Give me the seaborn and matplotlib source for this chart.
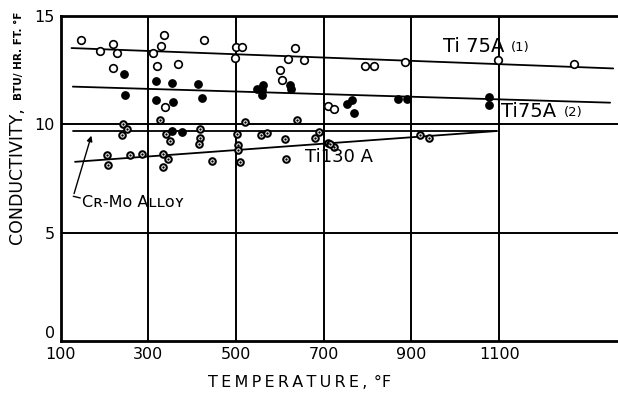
"""
Thermal conductivity of Ti alloys vs temperature (scanned chart recreation)
"""

import matplotlib
matplotlib.use("Agg")
import matplotlib.pyplot as plt
import seaborn as sns

# Ti 75A (1) - open circles
open_x = [146, 191, 220, 229, 219, 310, 336, 330, 321, 367, 428, 501, 514, 498,
          634, 618, 656, 600, 606, 709, 723, 337, 794, 815, 885, 1098, 1270]
open_y = [13.9, 13.37, 13.7, 13.27, 12.6, 13.27, 14.13, 13.6, 12.67, 12.8, 13.9, 13.55, 13.55, 13.06,
          13.52, 13.01, 12.98, 12.5, 12.04, 10.85, 10.7, 10.82, 12.7, 12.7, 12.86, 12.98, 12.78]

# Ti 75A (2) - filled circles
filled_x = [245, 247, 317, 355, 414, 317, 356, 423, 549, 562, 560, 559, 623, 625,
            752, 764, 768, 870, 889, 1078, 1076, 355, 376]
filled_y = [12.3, 11.37, 11.98, 11.93, 11.88, 11.11, 11.03, 11.2, 11.65, 11.8, 11.36, 11.59, 11.82, 11.65,
            10.93, 11.13, 10.54, 11.16, 11.16, 11.28, 10.88, 9.69, 9.64]

# Ti130A / Cr-Mo - dotted circles
dot_x = [243, 251, 241, 327, 340, 350, 418, 418, 416, 502, 504, 504, 521, 557, 570, 611,
         638, 680, 690, 710, 724, 714, 920, 940,
         205, 209, 258, 285, 333, 344, 334, 446, 510, 613]
dot_y = [10.0, 9.8, 9.49, 10.19, 9.54, 9.23, 9.77, 9.38, 9.1, 9.54, 9.04, 8.81, 10.1, 9.5, 9.6, 9.34,
         10.2, 9.38, 9.64, 9.15, 8.95, 9.07, 9.5, 9.38,
         8.6, 8.12, 8.6, 8.64, 8.64, 8.41, 8.02, 8.33, 8.25, 8.41]

# fitted lines (end points)
ti75a1_x, ti75a1_y = [125, 1360], [13.52, 12.58]
ti75a2_x, ti75a2_y = [128, 1353], [11.74, 11.0]
crmo_x, crmo_y = [129, 1094], [9.69, 9.69]
ti130a_x, ti130a_y = [133, 1094], [8.27, 9.69]

x_ticks = [100, 300, 500, 700, 900, 1100]
y_ticks = [0, 5, 10, 15]

sns.set_style("white")
plt.rcParams['font.family'] = ['DejaVu Sans']
plt.rcParams['text.color'] = 'black'
plt.rcParams['xtick.color'] = 'black'
plt.rcParams['ytick.color'] = 'black'

fig = plt.figure(figsize=(6.18, 4.0), dpi=100)
ax = fig.add_axes([0.098, 0.1475, 0.902, 0.8125])

# grid lines
for gx in x_ticks[1:]:
    ax.axvline(gx, color='black', lw=1.4, zorder=1)
for gy in [5, 10]:
    ax.axhline(gy, color='black', lw=1.4, zorder=1)

# fitted lines
for lx, ly in [(ti75a1_x, ti75a1_y), (ti75a2_x, ti75a2_y), (crmo_x, crmo_y), (ti130a_x, ti130a_y)]:
    sns.lineplot(x=lx, y=ly, ax=ax, color='black', lw=1.3, zorder=2)

# points
sns.scatterplot(x=open_x, y=open_y, ax=ax, marker='o', s=30, facecolor='white',
                edgecolor='black', linewidth=1.2, zorder=3)
sns.scatterplot(x=filled_x, y=filled_y, ax=ax, marker='o', s=28, color='black',
                edgecolor='black', linewidth=1.0, zorder=3)
sns.scatterplot(x=dot_x, y=dot_y, ax=ax, marker='o', s=22, facecolor='white',
                edgecolor='black', linewidth=1.5, zorder=3)
sns.scatterplot(x=dot_x, y=dot_y, ax=ax, marker='o', s=3, color='black',
                linewidth=0, zorder=4)

# labels on curves
ax.text(972, 13.6, 'Ti 75A', fontsize=14, va='center', ha='left')
ax.text(1126, 13.55, '(1)', fontsize=9.5, va='center', ha='left')
ax.text(1105, 10.6, 'Ti75A', fontsize=14, va='center', ha='left')
ax.text(1248, 10.55, '(2)', fontsize=9.5, va='center', ha='left')
ax.text(657, 8.5, 'Ti130 A', fontsize=13, va='center', ha='left')
ax.text(150, 6.37, 'Cʀ-Mᴏ Aʟʟᴏʏ', fontsize=11.5, va='center', ha='left')

# leader line for Cr-Mo
ax.annotate('', xy=(172, 9.6), xytext=(129, 6.68),
            arrowprops=dict(arrowstyle='-|>', color='black', lw=1.0, mutation_scale=8))
ax.plot([129, 145], [6.68, 6.6], color='black', lw=1.0)

ax.set_xlim(100, 1371)
ax.set_ylim(0, 15)
ax.set_xticks(x_ticks)
ax.set_yticks(y_ticks)
ax.tick_params(length=0, labelsize=11.5, pad=4, colors='black')
ax.get_yticklabels()[0].set_va('bottom')
ax.set_xlabel('')
ax.set_ylabel('')

for side in ['left', 'bottom', 'top']:
    ax.spines[side].set_linewidth(2.0)
    ax.spines[side].set_color('black')
ax.spines['right'].set_visible(False)

fig.text(0.485, 0.025, 'T E M P E R A T U R E ,  °F'.replace(' ', '\u2009'), fontsize=11.5,
         ha='center', va='bottom')
fig.text(0.028, 0.56, 'CONDUCTIVITY,', fontsize=12.5, rotation=90, ha='center', va='center')
fig.text(0.031, 0.86, 'BTU/ HR. FT. °F', fontsize=7.5, rotation=90, ha='center', va='center',
         fontweight='bold')

plt.savefig('out.png', dpi=100)
